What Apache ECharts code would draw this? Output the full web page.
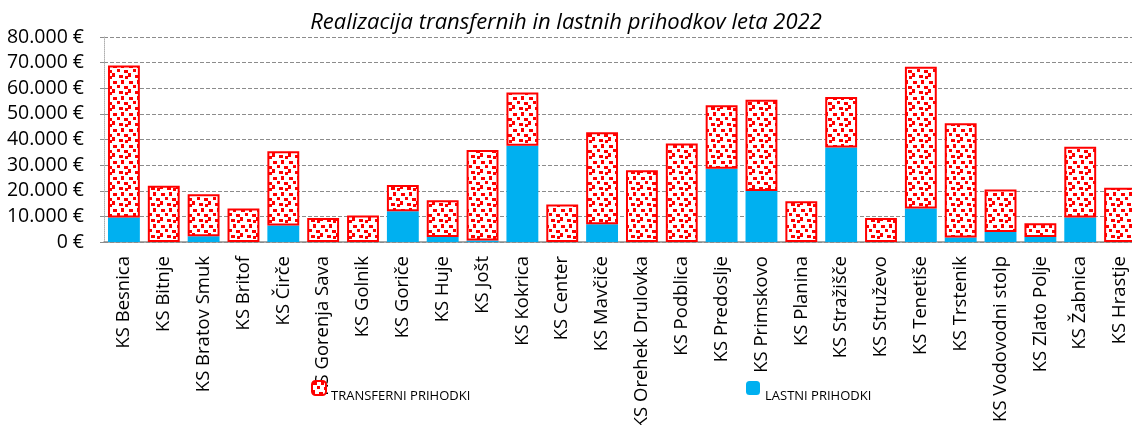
<!DOCTYPE html>
<html>
<head>
<meta charset="utf-8">
<script src="https://cdn.jsdelivr.net/npm/echarts@6/dist/echarts.min.js"></script>
<style>
  html, body { margin: 0; padding: 0; background: #fff; }
  #chart { width: 1132px; height: 425px; }
</style>
</head>
<body>
<div id="chart"></div>
<script>
const categories = [
  "KS Besnica", "KS Bitnje", "KS Bratov Smuk", "KS Britof", "KS Čirče",
  "KS Gorenja Sava", "KS Golnik", "KS Goriče", "KS Huje", "KS Jošt",
  "KS Kokrica", "KS Center", "KS Mavčiče", "KS Orehek Drulovka", "KS Podblica",
  "KS Predoslje", "KS Primskovo", "KS Planina", "KS Stražišče", "KS Struževo",
  "KS Tenetiše", "KS Trstenik", "KS Vodovodni stolp", "KS Zlato Polje", "KS Žabnica",
  "KS Hrastje"
];
// lastni prihodki (spodnji del)
const lastni = [
  9600, 0, 2200, 0, 6400,
  0, 0, 12000, 2000, 600,
  37600, 0, 6900, 0, 0,
  28600, 19900, 0, 36900, 0,
  13100, 1800, 3900, 2000, 9600,
  0
];
// transferni prihodki (zgornji del)
const transferni = [
  59300, 22000, 16400, 13100, 29000,
  9400, 10300, 10200, 14300, 35300,
  20700, 14600, 35900, 28000, 38400,
  24800, 35600, 15900, 19700, 9400,
  55300, 44500, 16600, 5300, 27600,
  21200
];
const yTicks = [0, 10000, 20000, 30000, 40000, 50000, 60000, 70000, 80000];

const font = "'Open Sans', 'Noto Sans', sans-serif";

// confetti vzorec
function makePattern() {
  const c = document.createElement("canvas");
  c.width = 16;
  c.height = 16;
  const ctx = c.getContext("2d");
  ctx.fillStyle = "#fff";
  ctx.fillRect(0, 0, 16, 16);
  ctx.fillStyle = "#ff0000";
  [[1, 1, 4, 3], [9, 0, 3, 4], [5, 5, 3, 3], [12, 6, 4, 3], [0, 9, 3, 4], [7, 11, 4, 3], [13, 12, 3, 3]]
    .forEach(r => ctx.fillRect(r[0], r[1], r[2], r[3]));
  return c;
}
const pattern = { image: makePattern(), repeat: "repeat" };

const legendText = { fontFamily: font, fontSize: 13, color: "#000", lineHeight: 16 };

const chart = echarts.init(document.getElementById("chart"));
const option = {
  animation: false,
  title: {
    text: "Realizacija transfernih in lastnih prihodkov leta 2022",
    left: "center",
    top: 7,
    textStyle: { fontFamily: font, fontSize: 22, fontStyle: "italic", fontWeight: "normal", color: "#000" }
  },
  legend: [
    {
      data: ["TRANSFERNI PRIHODKI"],
      left: 306,
      top: 367,
      itemWidth: 14,
      itemHeight: 14,
      formatter: n => "\n" + n,
      textStyle: legendText
    },
    {
      data: ["LASTNI PRIHODKI"],
      left: 741,
      top: 367,
      itemWidth: 14,
      itemHeight: 14,
      formatter: n => "\n" + n,
      textStyle: legendText
    }
  ],
  grid: { left: 104, right: -8, top: 37, bottom: 183, containLabel: false, outerBoundsMode: "none" },
  xAxis: {
    type: "category",
    data: categories,
    axisLine: { lineStyle: { color: "#8c8c8c", width: 1.5 } },
    axisTick: { show: false },
    axisLabel: {
      rotate: 90,
      interval: 0,
      margin: 14,
      fontFamily: font,
      fontSize: 18.5,
      color: "#000"
    }
  },
  yAxis: {
    type: "value",
    min: 0,
    max: 80000,
    interval: 10000,
    axisLine: { show: true, lineStyle: { color: "#b0b0b0", type: "dotted" } },
    axisTick: { show: true, length: 6, lineStyle: { color: "#8c8c8c", type: "dashed" } },
    splitLine: { lineStyle: { color: "#8c8c8c", type: [4, 2] } },
    axisLabel: {
      margin: 20,
      fontFamily: font,
      fontSize: 19.5,
      color: "#000",
      formatter: v => (yTicks.includes(v) ? v.toLocaleString("de-DE") + " €" : "")
    }
  },
  series: [
    {
      name: "LASTNI PRIHODKI",
      type: "bar",
      stack: "sum",
      barCategoryGap: "20%",
      data: lastni,
      itemStyle: { color: "#00b0f0" }
    },
    {
      name: "TRANSFERNI PRIHODKI",
      type: "bar",
      stack: "sum",
      barCategoryGap: "20%",
      data: transferni,
      itemStyle: { color: pattern, borderColor: "#ff0000", borderWidth: 2 }
    }
  ]
};
chart.setOption(option);
window.addEventListener("resize", () => {
  chart && chart.resize();
});
</script>
</body>
</html>
